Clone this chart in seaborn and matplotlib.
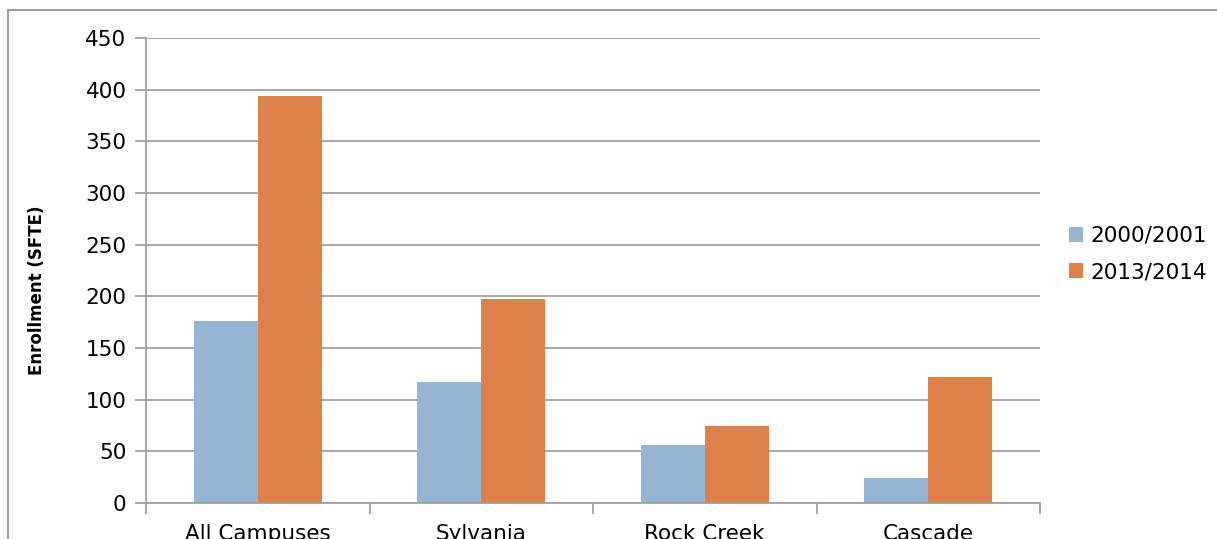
import matplotlib
matplotlib.use("Agg")
import matplotlib.pyplot as plt
import seaborn as sns
import pandas as pd
from matplotlib.patches import Rectangle
from matplotlib.ticker import FixedLocator, MultipleLocator

categories = ["All Campuses", "Sylvania", "Rock Creek", "Cascade"]
series_names = ["2000/2001", "2013/2014"]
values_2000 = [176, 117, 56, 24]
values_2013 = [394, 197, 75, 122]
colors = ["#95B6D3", "#DE8149"]

df = pd.DataFrame({
    "Campus": categories * 2,
    "Year": [series_names[0]] * 4 + [series_names[1]] * 4,
    "Enrollment": values_2000 + values_2013,
})

sns.set_theme(style="white")
plt.rcParams['font.family'] = ['DejaVu Sans']
plt.rcParams['text.color'] = 'black'

fig = plt.figure(figsize=(12.17, 5.39), dpi=100)
ax = fig.add_axes([146/1217, 1-503/539, (1040-146)/1217, (503-38)/539])

sns.barplot(data=df, x="Campus", y="Enrollment", hue="Year", palette=colors,
            width=0.573, ax=ax, saturation=1, legend=True, linewidth=0)

ax.set_ylim(0, 450)
ax.set_xlim(-0.5, 3.5)
ax.yaxis.set_major_locator(MultipleLocator(50))
ax.grid(axis="y", color="#A0A0A0", linewidth=1.3)
ax.set_axisbelow(True)
for s in ["top", "right"]:
    ax.spines[s].set_visible(False)
for s in ["left", "bottom"]:
    ax.spines[s].set_color("#A0A0A0")
    ax.spines[s].set_linewidth(1.3)

ax.tick_params(axis="y", which="major", direction="out", length=8, width=1.3,
               color="#A0A0A0", labelsize=15.5, labelcolor="black", pad=6, left=True)
ax.tick_params(axis="x", which="major", length=0, labelsize=15.5, labelcolor="black", pad=15)
ax.xaxis.set_minor_locator(FixedLocator([-0.5, 0.5, 1.5, 2.5, 3.5]))
ax.tick_params(axis="x", which="minor", direction="out", length=8, width=1.3,
               color="#A0A0A0", bottom=True)

ax.set_xlabel("")
ax.set_ylabel("Enrollment (SFTE)", fontsize=12, fontweight="bold", color="black")
ax.yaxis.set_label_coords(-0.112, 0.458)

handles, labels = ax.get_legend_handles_labels()
ax.legend(handles, labels, loc="center left", bbox_to_anchor=(1060/1217, 1 - 254/539),
          bbox_transform=fig.transFigure, frameon=False, fontsize=15.5,
          handlelength=0.65, handleheight=0.65, handletextpad=0.35, labelspacing=0.75,
          borderaxespad=0)

fig.patches.append(Rectangle((8/1217, -0.1), 1.2, 1.1 - 10/539, transform=fig.transFigure,
                             fill=False, edgecolor="#8C8C8C", linewidth=1.2))

fig.savefig("out.png", dpi=100)
